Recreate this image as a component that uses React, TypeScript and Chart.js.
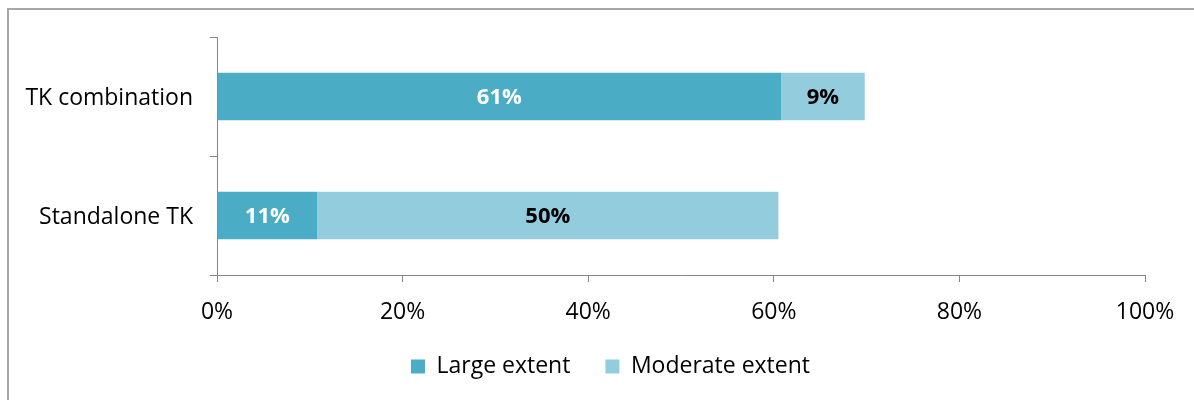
import React, { useEffect, useRef } from "react";
import { Chart, registerables } from "chart.js";

Chart.register(...registerables);

const categories = ["TK combination", "Standalone TK"];
const seriesNames = ["Large extent", "Moderate extent"];
const largeExtent = [60.8, 10.8];
const moderateExtent = [9.0, 49.7];
const seriesColors = ["#4BACC6", "#93CDDD"];
const labelColors = ["#FFFFFF", "#000000"];
const xTicks = [0, 20, 40, 60, 80, 100];

const FONT = "'Open Sans', sans-serif";

const dataLabelPlugin = {
  id: "dataLabels",
  afterDatasetsDraw(chart: any) {
    const ctx = chart.ctx;
    ctx.save();
    ctx.font = `bold 22px ${FONT}`;
    ctx.textAlign = "center";
    ctx.textBaseline = "middle";
    chart.data.datasets.forEach((ds: any, di: number) => {
      const meta = chart.getDatasetMeta(di);
      meta.data.forEach((bar: any, i: number) => {
        const v = ds.data[i];
        const cx = (bar.x + bar.base) / 2;
        ctx.fillStyle = labelColors[di];
        ctx.fillText(Math.round(v) + "%", cx, bar.y + 1);
      });
    });
    ctx.restore();
  },
};

const legendShiftPlugin = {
  id: "legendShift",
  afterLayout(chart: any) {
    if (chart.legend) {
      chart.legend.left += 76;
    }
  },
};

export default function App() {
  const ref = useRef<HTMLCanvasElement>(null);
  useEffect(() => {
    const chart = new Chart(ref.current!, {
      type: "bar",
      data: {
        labels: categories,
        datasets: [
          { label: seriesNames[0], data: largeExtent, backgroundColor: seriesColors[0] },
          { label: seriesNames[1], data: moderateExtent, backgroundColor: seriesColors[1] },
        ],
      },
      plugins: [dataLabelPlugin, legendShiftPlugin],
      options: {
        indexAxis: "y",
        animation: false,
        responsive: false,
        maintainAspectRatio: false,
        layout: { padding: { top: 37, right: 49, left: 0, bottom: 12 } },
        datasets: { bar: { barPercentage: 0.4, categoryPercentage: 1 } },
        plugins: {
          tooltip: { enabled: false },
          legend: {
            position: "bottom",
            labels: {
              boxWidth: 14,
              boxHeight: 14,
              padding: 35,
              color: "#000",
              font: { family: FONT, size: 23 },
            },
          },
        },
        scales: {
          x: {
            stacked: true,
            min: 0,
            max: 100,
            afterBuildTicks(scale: any) {
              scale.ticks = xTicks.map((v) => ({ value: v }));
            },
            afterFit(scale: any) {
              scale.height = 45;
            },
            ticks: {
              callback: (v: any) => v + "%",
              color: "#000",
              padding: 17,
              font: { family: FONT, size: 23 },
            },
            grid: { drawOnChartArea: false, drawTicks: true, tickLength: 7, color: "#868686" },
            border: { display: true, color: "#868686", width: 1 },
          },
          y: {
            stacked: true,
            afterFit(scale: any) {
              scale.width = 217;
            },
            ticks: {
              color: "#000",
              padding: 17,
              labelOffset: 2,
              font: { family: FONT, size: 23 },
            },
            grid: { drawOnChartArea: false, drawTicks: true, tickLength: 7, color: "#868686", offset: true },
            border: { display: true, color: "#868686", width: 1 },
          },
        },
      },
    });
    return () => chart.destroy();
  }, []);
  return (
    <div style={{ position: "fixed", left: 0, top: 0, width: 1194, height: 400, overflow: "hidden", background: "#fff" }}>
      <div style={{ position: "absolute", left: 7, top: 8, width: 1300, height: 500, border: "2px solid #A6A6A6", boxSizing: "border-box" }} />
      <canvas ref={ref} width={1194} height={400} style={{ position: "absolute", left: 0, top: 0, width: 1194, height: 400 }} />
    </div>
  );
}
